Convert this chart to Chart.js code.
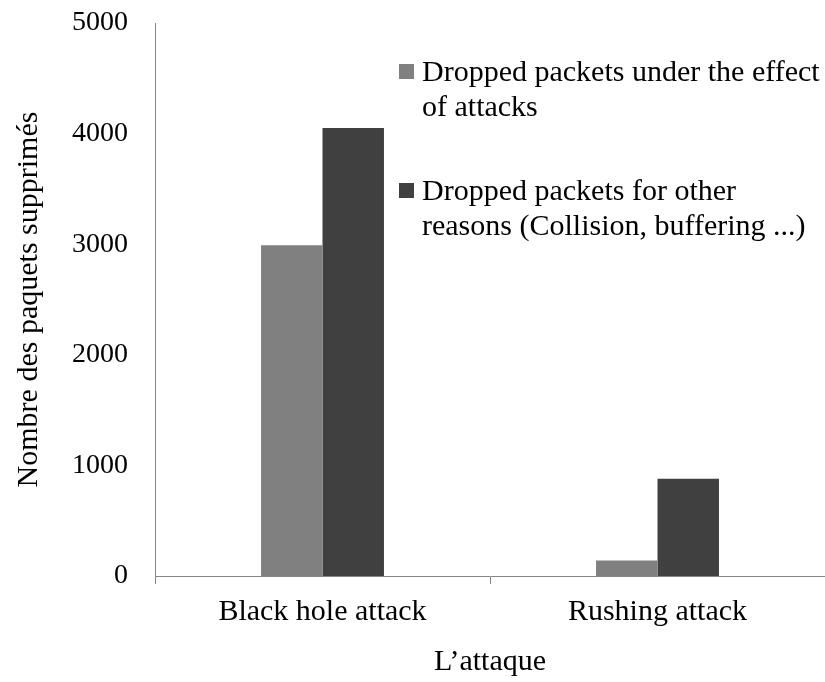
<!DOCTYPE html>
<html>
<head>
<meta charset="utf-8">
<script src="https://cdn.jsdelivr.net/npm/chart.js@4/dist/chart.umd.min.js"></script>
<style>
    html, body { margin: 0; padding: 0; background: #fff; }
    #wrap { width: 825px; height: 682px; position: relative; }
</style>
</head>
<body>
<div id="wrap"><canvas id="chart"></canvas></div>
<script>
const categories = ['Black hole attack', 'Rushing attack'];
const attackDropped = [2990, 140];
const otherDropped = [4050, 880];
const legendLines = [
    ['Dropped packets under the effect', 'of attacks'],
    ['Dropped packets for other', 'reasons (Collision, buffering ...)'],
];
const yMin = 0, yMax = 5000, yStep = 1000;

const FONT = '"Liberation Serif", "Times New Roman", serif';
const axisGray = '#868686';
const colors = ['#808080', '#404040'];

// legend drawn inside the plot, text wraps over two lines
const wrapLegend = {
    id: 'wrapLegend',
    afterDraw(chart) {
        const ctx = chart.ctx;
        const area = chart.chartArea;
        const x = area.left + 244;
        const tops = [area.top + 41, area.top + 160];
        ctx.save();
        ctx.font = '30px ' + FONT;
        ctx.textBaseline = 'alphabetic';
        ctx.textAlign = 'left';
        chart.data.datasets.forEach((ds, i) => {
            ctx.fillStyle = ds.backgroundColor;
            ctx.fillRect(x, tops[i], 15, 15);
            ctx.fillStyle = '#000';
            legendLines[i].forEach((line, j) => {
                ctx.fillText(line, x + 23, tops[i] + 17 + j * 35);
            });
        });
        ctx.restore();
    },
};

new Chart(document.getElementById('chart'), {
    type: 'bar',
    data: {
        labels: categories,
        datasets: [
            { label: legendLines[0].join(' '), data: attackDropped, backgroundColor: colors[0] },
            { label: legendLines[1].join(' '), data: otherDropped, backgroundColor: colors[1] },
        ],
    },
    options: {
        responsive: true,
        maintainAspectRatio: false,
        devicePixelRatio: 1,
        animation: false,
        layout: { padding: { top: 23, right: 0, left: 0, bottom: 0 } },
        datasets: { bar: { categoryPercentage: 0.367, barPercentage: 1.0, borderWidth: 0 } },
        plugins: { legend: { display: false }, tooltip: { enabled: false } },
        scales: {
            x: {
                offset: true,
                grid: { display: true, drawOnChartArea: false, drawTicks: true, tickLength: 8, color: axisGray, offset: true },
                border: { display: true, color: axisGray, width: 1 },
                ticks: { color: '#000', padding: 10, maxRotation: 0, font: { family: FONT, size: 30 } },
                title: { display: true, text: 'L\u2019attaque', color: '#000', padding: { top: 0, bottom: 2 }, font: { family: FONT, size: 30 } },
                afterFit: s => { s.height = 106; },
            },
            y: {
                min: yMin,
                max: yMax,
                grid: { display: false, drawTicks: false },
                border: { display: true, color: axisGray, width: 1 },
                ticks: { stepSize: yStep, color: '#000', padding: 27, font: { family: FONT, size: 28 }, callback: v => String(v) },
                title: { display: true, text: 'Nombre des paquets supprimés', color: '#000', padding: { top: 11, bottom: 0 }, font: { family: FONT, size: 30 } },
                afterFit: s => { s.width = 155; s.paddingTop = 0; s.paddingBottom = 0; },
            },
        },
    },
    plugins: [wrapLegend],
});
</script>
</body>
</html>
